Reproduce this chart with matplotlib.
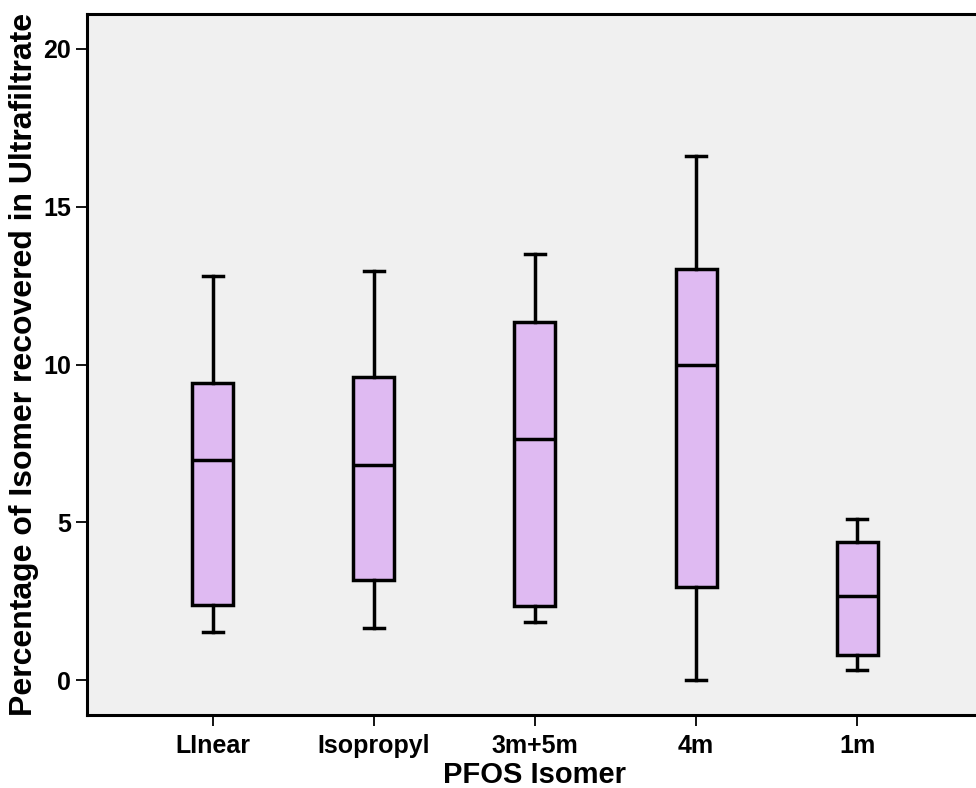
import matplotlib
matplotlib.use("Agg")
import matplotlib.pyplot as plt

plt.rcParams["font.family"] = ["Liberation Sans", "DejaVu Sans"]
plt.rcParams["font.weight"] = "bold"

# per-isomer five-number summaries (% recovered in ultrafiltrate)
isomers = ["LInear", "Isopropyl", "3m+5m", "4m", "1m"]
whisker_low = [1.52, 1.65, 1.84, 0.0, 0.32]
q1 = [2.38, 3.17, 2.35, 2.95, 0.79]
median = [6.97, 6.81, 7.64, 10.0, 2.66]
q3 = [9.41, 9.60, 11.35, 13.03, 4.37]
whisker_high = [12.8, 12.96, 13.5, 16.6, 5.1]

stats = []
for name, lo, a, m, b, hi in zip(isomers, whisker_low, q1, median, q3, whisker_high):
    stats.append(dict(label=name, whislo=lo, q1=a, med=m, q3=b, whishi=hi, fliers=[]))

fig = plt.figure(figsize=(9.76, 7.88), dpi=100)
ax = fig.add_axes([0.0891, 0.0926, 0.918, 0.8896])
ax.set_facecolor("#F0F0F0")

lw = 2.5
ax.bxp(
    stats,
    positions=range(len(isomers)),
    widths=0.255,
    capwidths=0.125,
    patch_artist=True,
    showfliers=False,
    boxprops=dict(facecolor="#DFBAF2", edgecolor="black", linewidth=lw),
    medianprops=dict(color="black", linewidth=lw),
    whiskerprops=dict(color="black", linewidth=lw),
    capprops=dict(color="black", linewidth=lw),
)

ax.set_xlim(-0.78, 4.78)
ax.set_ylim(-1.1, 21.1)
ax.set_yticks([0, 5, 10, 15, 20])
ax.set_xticks(range(len(isomers)))
ax.set_xticklabels(isomers)
ax.tick_params(axis="both", direction="out", length=8, width=1.3, labelsize=18)
ax.tick_params(axis="x", pad=6)
for side in ["left", "top", "bottom"]:
    ax.spines[side].set_linewidth(2.2)
ax.spines["right"].set_visible(False)

ax.set_xlabel("PFOS Isomer", fontsize=21, fontweight="bold", labelpad=2)
ax.set_ylabel("Percentage of Isomer recovered in Ultrafiltrate", fontsize=23,
              fontweight="bold", labelpad=3)

fig.savefig("out.png", dpi=100)
